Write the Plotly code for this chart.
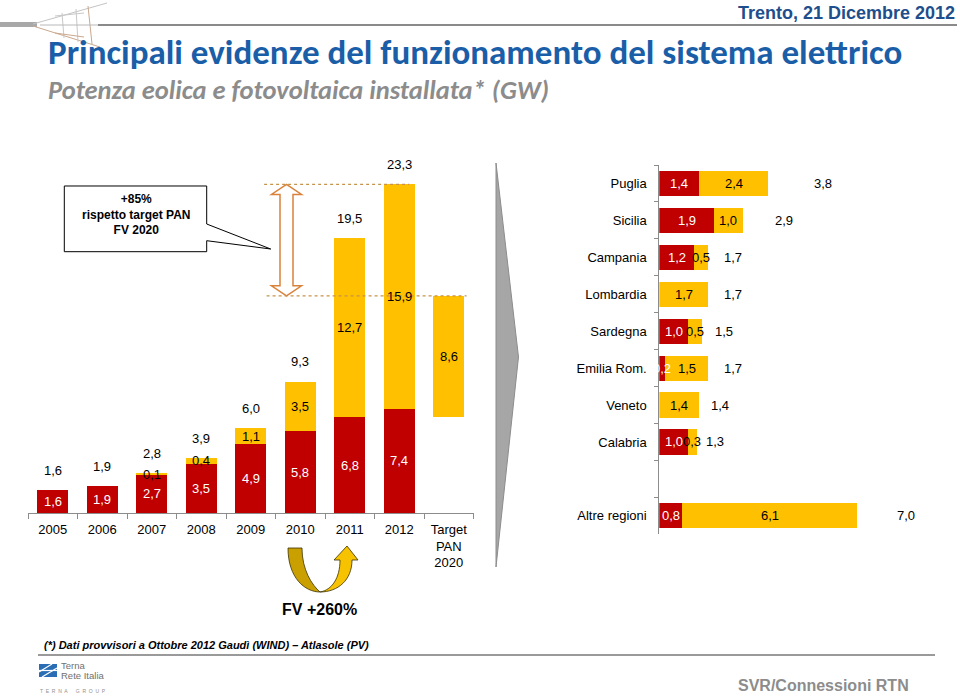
import plotly.graph_objects as go

W, H = 960, 696

# ---------------- data ----------------
years = ["2005", "2006", "2007", "2008", "2009", "2010", "2011", "2012", "Target PAN 2020"]
year_labels = ["2005", "2006", "2007", "2008", "2009", "2010", "2011", "2012", "Target<br>PAN<br>2020"]
wind = [1.6, 1.9, 2.7, 3.5, 4.9, 5.8, 6.8, 7.4, None]
pv = [None, None, 0.1, 0.4, 1.1, 3.5, 12.7, 15.9, 8.6]
target_base = [None, None, None, None, None, None, None, None, 6.8]
totals = [1.6, 1.9, 2.8, 3.9, 6.0, 9.3, 19.5, 23.3, None]

regions = ["Puglia", "Sicilia", "Campania", "Lombardia", "Sardegna", "Emilia Rom.",
           "Veneto", "Calabria", " ", "Altre regioni"]
reg_wind = [1.4, 1.9, 1.2, None, 1.0, 0.2, None, 1.0, None, 0.8]
reg_pv = [2.4, 1.0, 0.5, 1.7, 0.5, 1.5, 1.4, 0.3, None, 6.1]
reg_total = [3.8, 2.9, 1.7, 1.7, 1.5, 1.7, 1.4, 1.3, None, 7.0]

RED = "#c00000"
YEL = "#ffc000"
FONT = "Liberation Sans, Arial, sans-serif"
XMAX2 = 10.3


def fmt(v):
    return f"{v:.1f}".replace(".", ",")


def px(x):
    return x / W


def py(y):
    return 1 - y / H


fig = go.Figure()

# ---------------- left chart ----------------
fig.add_trace(go.Bar(x=years, y=wind, marker=dict(color=RED, line=dict(width=0)),
                     width=0.63, xaxis="x", yaxis="y", showlegend=False, hoverinfo="skip"))
fig.add_trace(go.Bar(x=years, y=target_base, marker=dict(color="rgba(0,0,0,0)", line=dict(width=0)),
                     width=0.63, xaxis="x", yaxis="y", showlegend=False, hoverinfo="skip"))
fig.add_trace(go.Bar(x=years, y=pv, marker=dict(color=YEL, line=dict(width=0)),
                     width=0.63, xaxis="x", yaxis="y", showlegend=False, hoverinfo="skip"))

# ---------------- right chart ----------------
fig.add_trace(go.Bar(y=regions, x=reg_wind, orientation="h", marker=dict(color=RED, line=dict(width=0)),
                     width=0.68, xaxis="x2", yaxis="y2", showlegend=False, hoverinfo="skip"))
fig.add_trace(go.Bar(y=regions, x=reg_pv, orientation="h", marker=dict(color=YEL, line=dict(width=0)),
                     width=0.68, xaxis="x2", yaxis="y2", showlegend=False, hoverinfo="skip"))

ann = []
lab_font = dict(family=FONT, size=13, color="black")
wht_font = dict(family=FONT, size=13, color="white")

for i, yr in enumerate(years):
    w = wind[i] or 0
    b = target_base[i] or 0
    if wind[i]:
        ann.append(dict(x=i, y=w / 2, xref="x", yref="y", text=fmt(w), showarrow=False, font=wht_font))
    if pv[i]:
        ann.append(dict(x=i, y=w + b + pv[i] / 2, xref="x", yref="y", text=fmt(pv[i]),
                        showarrow=False, font=lab_font))
    if totals[i] is not None:
        ann.append(dict(x=i, y=totals[i], xref="x", yref="y", text=fmt(totals[i]), showarrow=False,
                        font=lab_font, yshift=20))

for i, rg in enumerate(regions):
    w = reg_wind[i] or 0
    if reg_wind[i]:
        ann.append(dict(x=w / 2, y=rg, xref="x2", yref="y2", text=fmt(w), showarrow=False, font=wht_font))
    if reg_pv[i]:
        ann.append(dict(x=w + reg_pv[i] / 2, y=rg, xref="x2", yref="y2", text=fmt(reg_pv[i]),
                        showarrow=False, font=lab_font))
    if reg_total[i] is not None:
        end = w + (reg_pv[i] or 0)
        pos = (end + min(end + reg_total[i], XMAX2)) / 2
        ann.append(dict(x=pos, y=rg, xref="x2", yref="y2", text=fmt(reg_total[i]), showarrow=False,
                        font=lab_font))

# ---------------- texts ----------------
ann += [
    dict(x=px(957), y=py(13), xref="paper", yref="paper", xanchor="right", yanchor="middle",
         text="<b>Trento, 21 Dicembre 2012</b>", showarrow=False,
         font=dict(family=FONT, size=18, color="#1f4e8c")),
    dict(x=px(46), y=py(52), xref="paper", yref="paper", xanchor="left", yanchor="middle",
         text="<b>Principali evidenze del funzionamento del sistema elettrico</b>", showarrow=False,
         font=dict(family="Carlito, Lato, sans-serif", size=35, color="#1b5ea8")),
    dict(x=px(46), y=py(90), xref="paper", yref="paper", xanchor="left", yanchor="middle",
         text="<b><i>Potenza eolica e fotovoltaica installata* (GW)</i></b>", showarrow=False,
         font=dict(family="Carlito, Lato, sans-serif", size=26.5, color="#8c8c8c")),
    dict(x=px(135.5), y=py(214), xref="paper", yref="paper", xanchor="center", yanchor="middle",
         text="<b>+85%<br>rispetto target PAN<br>FV 2020</b>", showarrow=False,
         font=dict(family=FONT, size=12, color="black")),
    dict(x=px(319), y=py(609), xref="paper", yref="paper", xanchor="center", yanchor="middle",
         text="<b>FV +260%</b>", showarrow=False, font=dict(family=FONT, size=16, color="black")),
    dict(x=px(42), y=py(645), xref="paper", yref="paper", xanchor="left", yanchor="middle",
         text="<b><i>(*) Dati provvisori a Ottobre 2012 Gaudì (WIND) – Atlasole (PV)</i></b>",
         showarrow=False, font=dict(family=FONT, size=11, color="black")),
    dict(x=px(911), y=py(685), xref="paper", yref="paper", xanchor="right", yanchor="middle",
         text="<b>SVR/Connessioni RTN</b>", showarrow=False,
         font=dict(family=FONT, size=16, color="#8c8c8c")),
    dict(x=px(59), y=py(665.5), xref="paper", yref="paper", xanchor="left", yanchor="middle",
         text="Terna", showarrow=False, font=dict(family=FONT, size=9.5, color="#707070")),
    dict(x=px(59), y=py(675), xref="paper", yref="paper", xanchor="left", yanchor="middle",
         text="Rete Italia", showarrow=False, font=dict(family=FONT, size=9.5, color="#707070")),
    dict(x=px(38), y=py(691), xref="paper", yref="paper", xanchor="left", yanchor="middle",
         text="T  E  R  N  A      G  R  O  U  P", showarrow=False,
         font=dict(family=FONT, size=5, color="#909090")),
]

# ---------------- shapes ----------------
shapes = []


def path_px(pts, close=True):
    s = "M " + " L ".join(f"{px(x):.5f},{py(y):.5f}" for x, y in pts)
    return s + (" Z" if close else "")


def curve_px(cmds):
    out = []
    for c in cmds:
        if isinstance(c, str):
            out.append(c)
        else:
            out.append(f"{px(c[0]):.5f},{py(c[1]):.5f}")
    return " ".join(out)


# header line and decoration
shapes.append(dict(type="line", xref="paper", yref="paper", x0=px(98), x1=px(957), y0=py(25), y1=py(25),
                   line=dict(color="#8a8a8a", width=2)))
shapes.append(dict(type="line", xref="paper", yref="paper", x0=px(0), x1=px(37), y0=py(24.5), y1=py(24.5),
                   line=dict(color="#a8a8a8", width=5)))
for (x0, y0, x1, y1, c) in [(33, 24, 107, 3, "#c4c4c4"), (33, 26, 100, 47, "#caa88e"),
                            (55, 16, 84, 13, "#c8c8c8"), (62, 13, 64, 38, "#c8c8c8"),
                            (76, 9, 78, 42, "#c8c8c8"), (88, 6, 92, 44, "#caa88e"),
                            (55, 33, 84, 37, "#caa88e"), (40, 25, 98, 25, "#b8b8b8")]:
    shapes.append(dict(type="line", xref="paper", yref="paper", x0=px(x0), y0=py(y0), x1=px(x1), y1=py(y1),
                       line=dict(color=c, width=1)))

# callout box
shapes.append(dict(type="path", xref="paper", yref="paper",
                   path=path_px([(64.3, 186), (206.7, 186), (206.7, 224), (270.7, 249), (206.7, 240.7),
                                 (206.7, 251.7), (64.3, 251.7)]),
                   line=dict(color="black", width=1), fillcolor="white"))

# double arrow between 2012 total and target top (data y)
top = totals[7]
bot = target_base[8] + pv[8]
hl = 0.71
cx = 286.5
pts = [(cx, top), (cx + 15, top - hl), (cx + 6.5, top - hl), (cx + 6.5, bot + hl), (cx + 15, bot + hl),
       (cx, bot), (cx - 15, bot + hl), (cx - 6.5, bot + hl), (cx - 6.5, top - hl), (cx - 15, top - hl)]
shapes.append(dict(type="path", xref="paper", yref="y",
                   path="M " + " L ".join(f"{px(x):.5f},{y:.4f}" for x, y in pts) + " Z",
                   line=dict(color="#d9823b", width=1.5), fillcolor="white"))

# dotted reference lines
shapes.append(dict(type="line", xref="x", yref="y", x0=4.27, x1=7.2, y0=top, y1=top,
                   line=dict(color="#c8924a", width=1.2, dash="dot")))
shapes.append(dict(type="line", xref="x", yref="y", x0=4.32, x1=8.36, y0=bot, y1=bot,
                   line=dict(color="#c8924a", width=1.2, dash="dot")))

# gray chevron
shapes.append(dict(type="path", xref="paper", yref="paper",
                   path=path_px([(496, 163), (518.5, 357), (496, 567)]),
                   line=dict(color="#8c8c8c", width=1), fillcolor="#a6a6a6"))

# curved arrow
shapes.append(dict(type="path", xref="paper", yref="paper",
                   path=curve_px(["M", (288, 548), "L", (302, 548), "C", (302, 570), (312, 585), (320, 592),
                                  "C", (305, 592), (288, 578), (288, 548), "Z"]),
                   line=dict(color="#3a3000", width=0.8), fillcolor="#c9a000"))
shapes.append(dict(type="path", xref="paper", yref="paper",
                   path=curve_px(["M", (320, 592), "C", (332, 590), (340, 578), (340, 560), "L", (334, 560),
                                  "L", (347, 546), "L", (358, 560), "L", (352, 560),
                                  "C", (352, 580), (338, 592), (320, 592), "Z"]),
                   line=dict(color="#3a3000", width=0.8), fillcolor="#f7c200"))

# footer line and logo
shapes.append(dict(type="line", xref="paper", yref="paper", x0=px(38), x1=px(935), y0=py(655), y1=py(655),
                   line=dict(color="#9a9a9a", width=2)))
shapes.append(dict(type="rect", xref="paper", yref="paper", x0=px(39), x1=px(57), y0=py(677), y1=py(664),
                   line=dict(width=0), fillcolor="#2a6db5"))
for (x0, y0, x1, y1) in [(39, 672, 52, 664), (42, 677, 57, 668), (39, 670.5, 57, 670.5)]:
    shapes.append(dict(type="line", xref="paper", yref="paper", x0=px(x0), y0=py(y0), x1=px(x1), y1=py(y1),
                       line=dict(color="white", width=1.2)))

fig.update_layout(
    width=W, height=H, autosize=False,
    margin=dict(l=0, r=0, t=0, b=0),
    paper_bgcolor="white", plot_bgcolor="rgba(0,0,0,0)",
    barmode="stack",
    showlegend=False,
    xaxis=dict(domain=[px(28), px(473.5)], type="category", categoryorder="array", categoryarray=years,
               range=[-0.5, 8.5], tickvals=years, ticktext=year_labels,
               showline=True, linecolor="#8c8c8c", linewidth=1, ticks="outside", tickson="boundaries",
               ticklen=5, tickcolor="#8c8c8c", showgrid=False, zeroline=False, ticklabelstandoff=4,
               tickfont=dict(family=FONT, size=13, color="black"), anchor="y", fixedrange=True),
    yaxis=dict(domain=[py(513), py(146.4)], range=[0, 26], visible=False, anchor="x", fixedrange=True),
    xaxis2=dict(domain=[px(659.3), px(955)], range=[0, XMAX2], visible=False, anchor="y2", fixedrange=True),
    yaxis2=dict(domain=[py(534.3), py(165)], type="category", categoryorder="array", categoryarray=regions,
                range=[9.5, -0.5], showline=True, linecolor="#8c8c8c", linewidth=1, ticks="outside",
                tickson="boundaries", ticklen=4, tickcolor="#8c8c8c", showgrid=False, zeroline=False,
                tickfont=dict(family=FONT, size=13, color="black"), anchor="x2", ticklabelstandoff=9,
                fixedrange=True),
    annotations=ann,
    shapes=shapes,
)

fig.write_html("out.html", config={"displayModeBar": False},
               post_script="document.body.style.margin='0';document.body.style.overflow='hidden';")
